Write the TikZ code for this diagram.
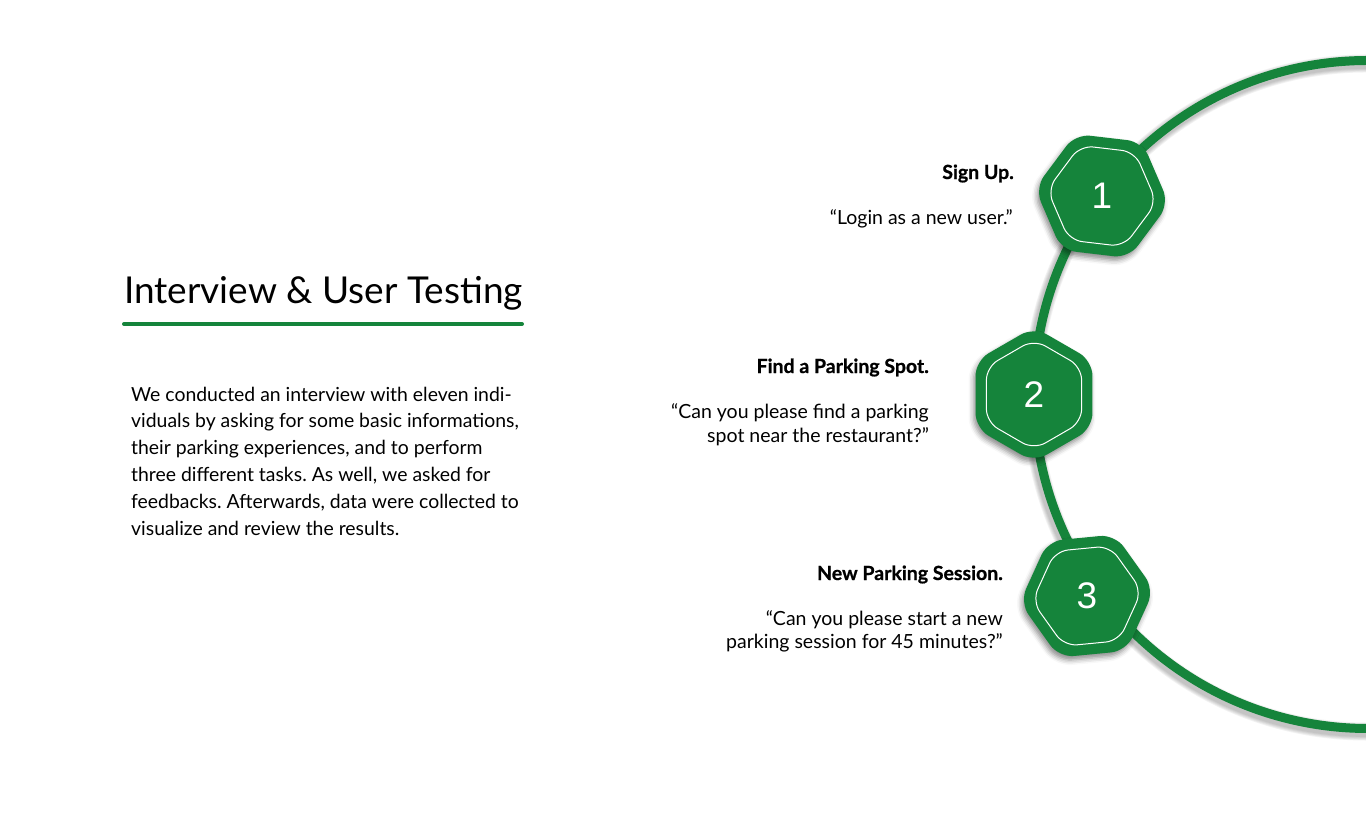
\documentclass[tikz,border=0pt]{standalone}
\usepackage{fontspec}
\setmainfont{Lato}
\newfontfamily\digitfont{Liberation Sans}
\newfontfamily\headfont[FakeBold=0.8]{Lato Bold}
\usetikzlibrary{shapes.geometric,shadows.blur}
\definecolor{brandgreen}{RGB}{21,132,59}
\frenchspacing

\begin{document}
\begin{tikzpicture}[x=1pt,y=-1pt,
  hexouter/.style={regular polygon, regular polygon sides=6, minimum size=135pt,
    inner sep=0pt, outer sep=0pt, fill=brandgreen, rounded corners=15pt,
    blur shadow={shadow xshift=-2pt, shadow yshift=-4pt, shadow blur radius=5pt, shadow opacity=45}},
  hexinner/.style={regular polygon, regular polygon sides=6, minimum size=110pt,
    inner sep=0pt, draw=white, line width=1pt, rounded corners=13pt, text=white,
    font=\digitfont\fontsize{37}{37}\selectfont},
  taskhead/.style={anchor=base east, inner sep=0pt, font=\headfont\fontsize{19.5}{24}\selectfont},
  taskquote/.style={anchor=base east, inner sep=0pt, font=\fontsize{19.5}{24}\selectfont},
  bodyline/.style={anchor=base west, inner sep=0pt, font=\fontsize{19.4}{24}\selectfont},
]
\useasboundingbox (0,0) rectangle (1366,825);
\clip (0,0) rectangle (1366,825);

% soft shadow under the ring
\coordinate (ring) at (1368,394.5);
\foreach \k in {1,...,5}{
  \pgfmathsetmacro{\w}{9+\k*1.8}
  \draw[black, opacity=0.05, line width=\w pt] ([shift={(-2,3)}]ring) ++(275:334)
    arc[start angle=275, end angle=85, radius=334];
}
% the ring
\draw[brandgreen, line width=9pt] (ring) ++(275:334)
  arc[start angle=275, end angle=85, radius=334];

% numbered steps, each turned so that one side faces the ring's centre
\node[hexouter, shape border rotate=53.3] (h1) at (1102,196) {};
\node[hexinner, shape border rotate=53.3] (n1) at (h1) {1};
\node[hexouter, shape border rotate=30] (h2) at (1034,394.5) {};
\node[hexinner, shape border rotate=30] (n2) at (h2) {2};
\node[hexouter, shape border rotate=65.5] (h3) at (1087,596) {};
\node[hexinner, shape border rotate=65.5] (n3) at (h3) {3};

% task labels
\node[taskhead] (t1) at (1014,179) {Sign Up.};
\node[taskquote] (q1) at (1013,224) {“Login as a new user.”};
\node[taskhead] (t2) at (929,373) {Find a Parking Spot.};
\node[taskquote] (q2a) at (929,418) {“Can you please find a parking};
\node[taskquote] (q2b) at (929,442) {spot near the restaurant?”};
\node[taskhead] (t3) at (1003,580) {New Parking Session.};
\node[taskquote] (q3a) at (1003,625) {“Can you please start a new};
\node[taskquote] (q3b) at (1003,648) {parking session for 45 minutes?”};

% title and rule
\node[anchor=base west, inner sep=0pt, font=\fontsize{37}{40}\selectfont] (title) at (124,303) {Interview \& User Testing};
\draw[brandgreen, line width=4pt, line cap=round] (124,324) -- (522,324);

% description
\node[bodyline] (p1) at (131,401) {We conducted an interview with eleven indi-};
\node[bodyline] (p2) at (131,427.8) {viduals by asking for some basic informations,};
\node[bodyline] (p3) at (131,454.6) {their parking experiences, and to perform};
\node[bodyline] (p4) at (131,481.4) {three different tasks. As well, we asked for};
\node[bodyline] (p5) at (131,508.2) {feedbacks. Afterwards, data were collected to};
\node[bodyline] (p6) at (131,535) {visualize and review the results.};
\end{tikzpicture}
\end{document}
